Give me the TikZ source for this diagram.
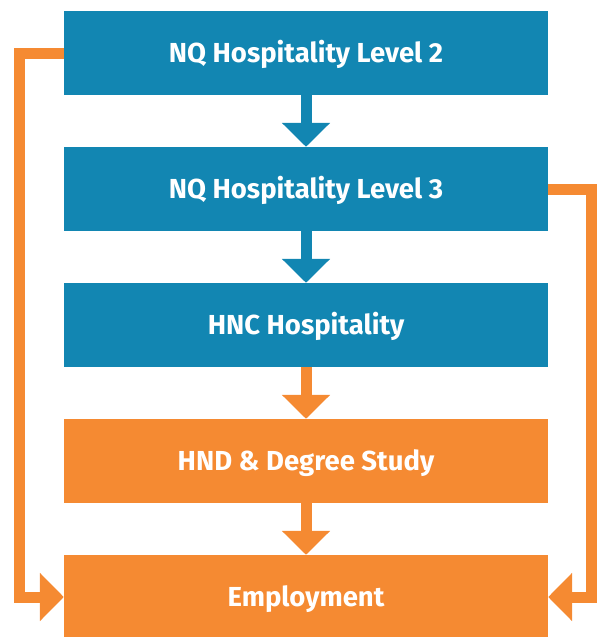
\documentclass[tikz,border=0pt]{standalone}
\usepackage{fontspec}
\setmainfont{Fira Sans}
\usetikzlibrary{arrows.meta}
\definecolor{hblue}{RGB}{18,134,178}
\definecolor{horange}{RGB}{245,138,50}
\tikzstyle{box}=[minimum width=484pt,minimum height=84pt,inner sep=0pt,text=white,text height=19pt,text depth=0pt,font=\fontsize{27.5}{32}\selectfont\bfseries]
\tikzstyle{bluebox}=[box,fill=hblue]
\tikzstyle{orangebox}=[box,fill=horange]
\tikzstyle{down}=[line width=11pt,-{Triangle[width=47pt,length=24pt]}]
\tikzstyle{side}=[line width=11pt,horange,miter limit=10,-{Triangle[width=47pt,length=24pt]}]

\begin{document}
\begin{tikzpicture}[x=1pt,y=-1pt]
\useasboundingbox (0, 0) rectangle (601, 637);

\draw (306, 53) node (nq2) [bluebox] {NQ Hospitality Level 2};
\draw (306, 189) node (nq3) [bluebox] {NQ Hospitality Level 3};
\draw (306, 325) node (hnc) [bluebox] {HNC Hospitality};
\draw (306, 461) node (hnd) [orangebox] {HND \& Degree Study};
\draw (306, 597) node (emp) [orangebox] {Employment};

\draw (nq2.south)--(nq3.north) [down, hblue];
\draw (nq3.south)--(hnc.north) [down, hblue];
\draw (hnc.south)--(hnd.north) [down, horange];
\draw (hnd.south)--(emp.north) [down, horange];

\draw (nq2.west)--++(-44, 0) |- (emp.west) [side];
\draw (nq3.east)--++(43, 0) |- (emp.east) [side];

\end{tikzpicture}
\end{document}
